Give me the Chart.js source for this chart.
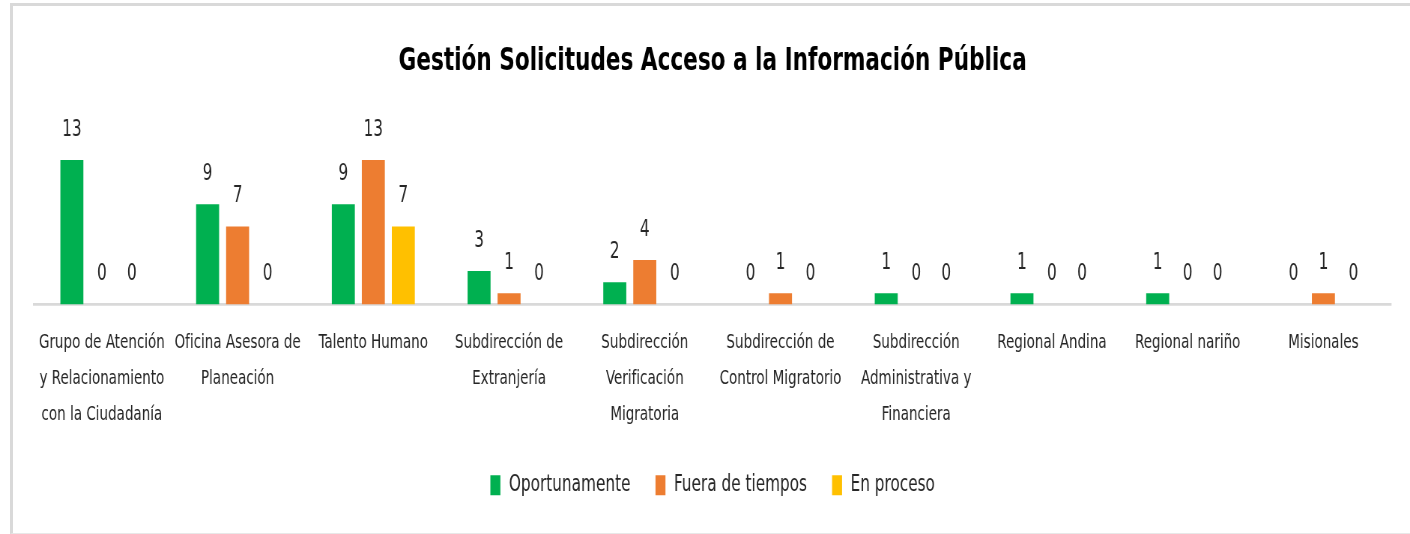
<!DOCTYPE html>
<html lang="es">
<head>
  <meta charset="UTF-8">
  <title>Gestión Solicitudes Acceso a la Información Pública</title>
  <script src="https://cdn.jsdelivr.net/npm/chart.js"></script>
  <style>
    html, body {
      margin: 0;
      padding: 0;
      background: #fff;
      width: 1410px;
      height: 534px;
      overflow: hidden;
    }
    #frame {
      position: absolute;
      left: 10px;
      top: 3px;
      width: 1420px;
      height: 527px;
      border-left: 3px solid #d9d9d9;
      border-top: 3px solid #d9d9d9;
      border-bottom: 1px solid #e8e8e8;
    }
    #chart {
      position: absolute;
      left: 0;
      top: 0;
    }
  </style>
</head>
<body>
  <div id="frame"></div>
  <!-- el lienzo se estira en vertical para imitar la letra estrecha del original -->
  <canvas id="chart" width="1410" height="400" style="width:1410px;height:534px"></canvas>

  <script>
    const categories = [
      ['Grupo de Atención', 'y Relacionamiento', 'con la Ciudadanía'],
      ['Oficina Asesora de', 'Planeación'],
      ['Talento Humano'],
      ['Subdirección de', 'Extranjería'],
      ['Subdirección', 'Verificación', 'Migratoria'],
      ['Subdirección de', 'Control Migratorio'],
      ['Subdirección', 'Administrativa y', 'Financiera'],
      ['Regional Andina'],
      ['Regional nariño'],
      ['Misionales']
    ];
    const oportunamente = [13, 9, 9, 3, 2, 0, 1, 1, 1, 0];
    const fueraDeTiempos = [0, 7, 13, 1, 4, 1, 0, 0, 0, 1];
    const enProceso = [0, 0, 7, 0, 0, 0, 0, 0, 0, 0];

    const FONT = "'DejaVu Sans Condensed', 'DejaVu Sans', sans-serif";
    const TEXT = '#262626';

    // etiquetas de valor sobre cada barra (incluye los ceros)
    const valueLabels = {
      id: 'valueLabels',
      afterDatasetsDraw(chart) {
        const ctx = chart.ctx;
        ctx.save();
        ctx.font = '17px ' + FONT;
        ctx.fillStyle = TEXT;
        ctx.textAlign = 'center';
        ctx.textBaseline = 'bottom';
        chart.data.datasets.forEach((ds, i) => {
          const meta = chart.getDatasetMeta(i);
          meta.data.forEach((bar, j) => {
            ctx.fillText(ds.data[j], bar.x, bar.y - 14);
          });
        });
        ctx.restore();
      }
    };

    new Chart(document.getElementById('chart'), {
      type: 'bar',
      data: {
        labels: categories,
        datasets: [
          { label: 'Oportunamente', data: oportunamente, backgroundColor: '#00B050' },
          { label: 'Fuera de tiempos', data: fueraDeTiempos, backgroundColor: '#ED7D31' },
          { label: 'En proceso', data: enProceso, backgroundColor: '#FFC000' }
        ]
      },
      options: {
        responsive: false,
        animation: false,
        devicePixelRatio: 1.335,
        barPercentage: 0.767,
        categoryPercentage: 0.663,
        layout: {
          padding: { left: 34, right: 19, top: 0, bottom: 18 }
        },
        plugins: {
          title: {
            display: true,
            text: 'Gestión Solicitudes Acceso a la Información Pública',
            color: '#000',
            font: { family: FONT, size: 24, weight: 'bold' },
            padding: { top: 32, bottom: 19 }
          },
          legend: {
            position: 'bottom',
            labels: {
              color: TEXT,
              font: { family: FONT, size: 17 },
              boxWidth: 10,
              boxHeight: 15,
              padding: 25
            }
          },
          tooltip: { enabled: false }
        },
        scales: {
          x: {
            grid: { display: false },
            border: { display: true, color: '#d9d9d9', width: 2 },
            ticks: {
              color: TEXT,
              font: { family: FONT, size: 15, lineHeight: 1.8 },
              padding: 7,
              maxRotation: 0,
              autoSkip: false
            },
            afterFit(scale) {
              scale.height = 102;
            }
          },
          y: {
            display: false,
            min: 0,
            max: 17.8
          }
        }
      },
      plugins: [valueLabels]
    });
  </script>
</body>
</html>
